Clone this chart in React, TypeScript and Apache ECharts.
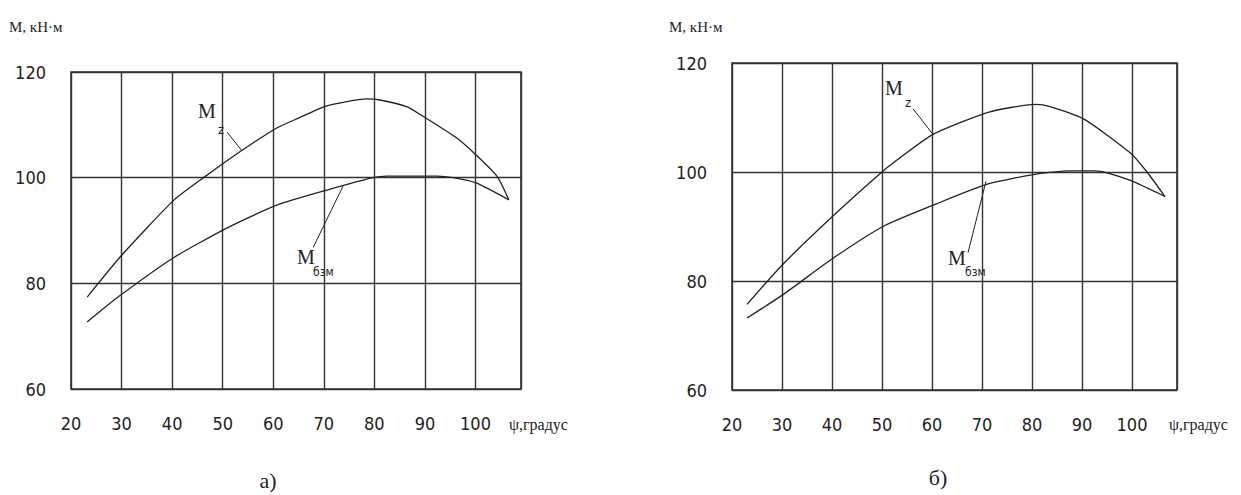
import { useEffect, useRef } from "react";
import * as echarts from "echarts";

// ---- data (ψ in degrees, M in kN·m) ----
const xTicks = [20, 30, 40, 50, 60, 70, 80, 90, 100];
const yTicks = [60, 80, 100, 120];

// panel а)
const psiA_z = [23.2, 30.1, 40.4, 46.5, 53.4, 60.7, 65.3, 70.6, 78.5, 81.1, 86.5, 89.3, 96.3, 100.1, 104.3, 106.6];
const mzA = [77.4, 85.4, 95.8, 100.2, 104.9, 109.4, 111.4, 113.6, 114.9, 114.7, 113.4, 111.8, 107.5, 104.3, 100.2, 95.8];
const psiA_b = [23.2, 29.3, 40.2, 50.9, 60.7, 70.8, 79.7, 82.5, 92.4, 95.6, 100.1, 106.6];
const mbA = [72.7, 77.4, 84.8, 90.5, 94.8, 97.7, 100.0, 100.3, 100.3, 100.0, 99.0, 95.8];

// panel б)
const psiB_z = [23.0, 30.0, 40.4, 50.0, 53.6, 60.2, 71.4, 80.8, 83.6, 90.4, 99.8, 103.0, 106.6];
const mzB = [75.7, 82.9, 92.1, 100.0, 102.6, 106.9, 111.0, 112.4, 112.0, 109.7, 103.4, 100.0, 95.5];
const psiB_b = [23.0, 30.2, 40.4, 50.4, 61.0, 71.2, 80.8, 87.6, 92.6, 95.2, 99.8, 106.6];
const mbB = [73.2, 77.5, 84.3, 90.1, 94.2, 97.8, 99.6, 100.2, 100.2, 99.8, 98.4, 95.5];

// leader lines for the curve labels: [x1, y1, x2, y2] in data units
const leadA_z = [50.9, 108.6, 53.8, 105.1];
const leadA_b = [67.9, 86.8, 73.8, 98.4];
const leadB_z = [56.2, 111.6, 60.2, 106.9];
const leadB_b = [67.2, 85.2, 70.8, 98.3];

const INK = "#222";
const GRID = "#333";
const NUM_FONT = "'Liberation Sans Narrow', 'DejaVu Sans Condensed', 'Liberation Serif', serif";
const SERIF = "'Liberation Serif', 'DejaVu Serif', serif";

const zip = (xs: number[], ys: number[]) => xs.map((x, i) => [x, ys[i]]);

function xAxis(gridIndex: number) {
  return {
    type: "value",
    gridIndex,
    min: 20,
    max: 109,
    interval: 10,
    axisLine: { show: false },
    axisTick: { show: false },
    splitLine: { show: true, lineStyle: { color: GRID, width: 1.4 } },
    axisLabel: {
      margin: 25,
      color: "#222",
      fontFamily: NUM_FONT,
      fontSize: 18,
      formatter: (v: number) => (xTicks.includes(v) ? String(v) : ""),
    },
  };
}

function yAxis(gridIndex: number) {
  return {
    type: "value",
    gridIndex,
    min: 60,
    max: 120,
    interval: 20,
    axisLine: { show: false },
    axisTick: { show: false },
    splitLine: { show: true, lineStyle: { color: GRID, width: 1.4 } },
    axisLabel: {
      margin: 25,
      color: "#222",
      fontFamily: NUM_FONT,
      fontSize: 18,
      formatter: (v: number) => (yTicks.includes(v) ? String(v) : ""),
    },
  };
}

function curve(gi: number, xs: number[], ys: number[], lead: number[]) {
  return {
    type: "line",
    xAxisIndex: gi,
    yAxisIndex: gi,
    data: zip(xs, ys),
    showSymbol: false,
    smooth: 0.2,
    lineStyle: { color: INK, width: 1.3 },
    silent: true,
    markLine: {
      silent: true,
      symbol: ["none", "none"],
      label: { show: false },
      lineStyle: { color: INK, width: 1, type: "solid" },
      data: [[{ coord: [lead[0], lead[1]] }, { coord: [lead[2], lead[3]] }]],
    },
  };
}

function txt(text: string, x: number, y: number, size: number, font: string, align = "left") {
  return {
    type: "text",
    x,
    y,
    style: { text, fill: "#222", font: `${size}px ${font}`, textAlign: align, textVerticalAlign: "middle" },
  };
}

export default function App() {
  const ref = useRef<HTMLDivElement>(null);
  useEffect(() => {
    const chart = echarts.init(ref.current!, null, { renderer: "svg" });
    chart.setOption({
      animation: false,
      backgroundColor: "#fff",
      grid: [
        { left: 71, top: 72, width: 450, height: 317, show: true, borderColor: GRID, borderWidth: 1.6, backgroundColor: "transparent" },
        { left: 732, top: 63, width: 445, height: 327, show: true, borderColor: GRID, borderWidth: 1.6, backgroundColor: "transparent" },
      ],
      xAxis: [xAxis(0), xAxis(1)],
      yAxis: [yAxis(0), yAxis(1)],
      series: [
        curve(0, psiA_z, mzA, leadA_z),
        curve(0, psiA_b, mbA, leadA_b),
        curve(1, psiB_z, mzB, leadB_z),
        curve(1, psiB_b, mbB, leadB_b),
      ],
      graphic: [
        txt("M, кН·м", 9, 27, 15, SERIF),
        txt("M, кН·м", 669, 27, 15, SERIF),
        txt("ψ,градус", 509, 424, 16, SERIF),
        txt("ψ,градус", 1169, 424, 16, SERIF),
        txt("а)", 268, 480, 22, SERIF, "center"),
        txt("б)", 938, 477, 22, SERIF, "center"),
        // curve labels, panel а)
        txt("M", 198, 111, 20, SERIF),
        txt("z", 218, 129, 13, NUM_FONT),
        txt("M", 297, 257, 20, SERIF),
        txt("бзм", 313, 272, 12, NUM_FONT),
        // curve labels, panel б)
        txt("M", 885, 88, 20, SERIF),
        txt("z", 905, 102, 13, NUM_FONT),
        txt("M", 948, 258, 20, SERIF),
        txt("бзм", 965, 272, 12, NUM_FONT),
      ],
    });
    return () => chart.dispose();
  }, []);
  return (
    <div
      ref={ref}
      style={{ position: "fixed", left: 0, top: 0, width: 1241, height: 495, background: "#fff" }}
    />
  );
}
